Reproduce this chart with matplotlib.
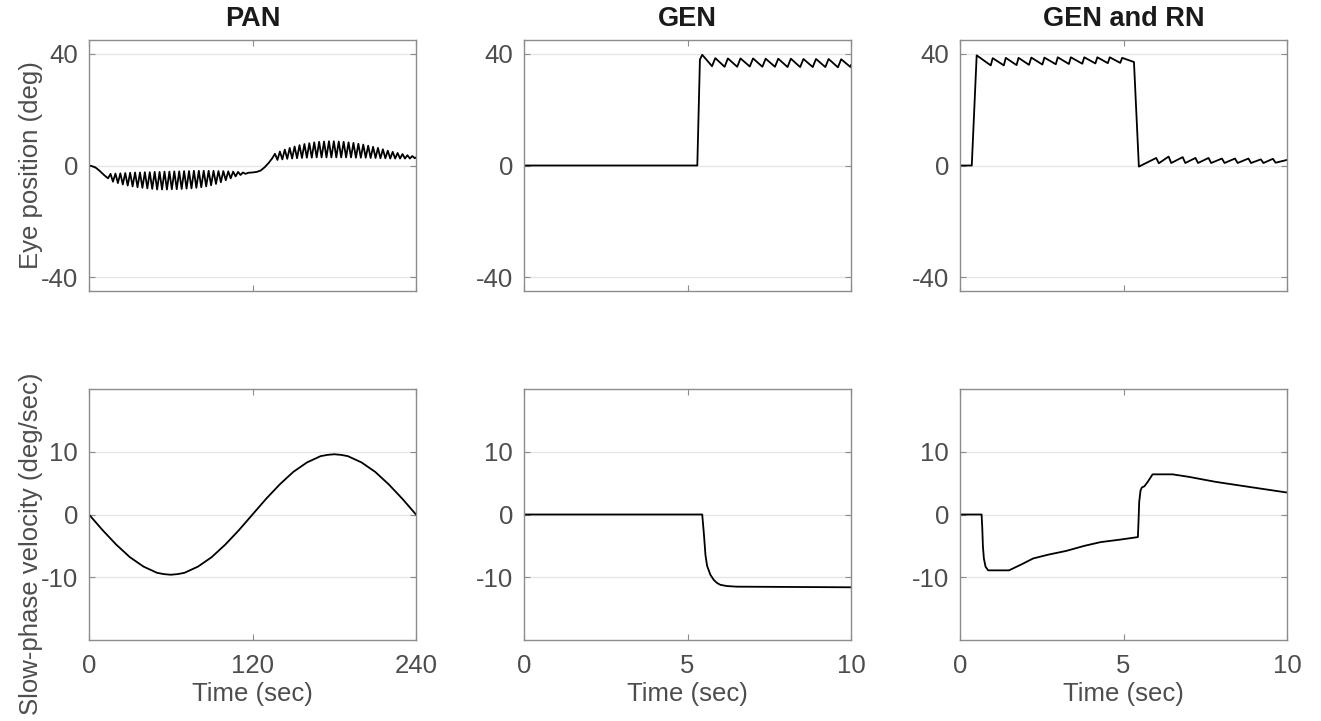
import matplotlib
matplotlib.use('Agg')
import matplotlib.pyplot as plt

plt.rcParams['font.family'] = ['Liberation Sans', 'DejaVu Sans']
plt.rcParams['axes.unicode_minus'] = False

# ---- PAN: eye position (vertices of the nystagmus trace)
pan_pos_t = [0, 2, 5, 8, 11, 14,
             15.8, 17.6, 19.4, 21.2, 23.0, 24.8, 26.6, 28.4, 30.2, 32.0,
             33.8, 35.6, 37.4, 39.2, 41.0, 42.8, 44.6, 46.4, 48.2, 50.0,
             51.8, 53.6, 55.4, 57.2, 59.0, 60.8, 62.6, 64.4, 66.2, 68.0,
             69.8, 71.6, 73.4, 75.2, 77.0, 78.8, 80.6, 82.4, 84.2, 86.0,
             87.8, 89.6, 91.4, 93.2, 95.0, 96.8, 98.6, 100.4, 102.2, 104.0,
             105.8, 107.6, 109.4, 111.2, 113.0, 114.8,
             117, 120, 123, 126, 129, 132, 134.5,
             136.5, 138.3, 140.1, 141.9, 143.7, 145.5, 147.3, 149.1, 150.9, 152.7,
             154.5, 156.3, 158.1, 159.9, 161.7, 163.5, 165.3, 167.1, 168.9, 170.7,
             172.5, 174.3, 176.1, 177.9, 179.7, 181.5, 183.3, 185.1, 186.9, 188.7,
             190.5, 192.3, 194.1, 195.9, 197.7, 199.5, 201.3, 203.1, 204.9, 206.7,
             208.5, 210.3, 212.1, 213.9, 215.7, 217.5, 219.3, 221.1, 222.9, 224.7,
             226.5, 228.3, 230.1, 231.9, 233.7, 235.5, 237.3, 239.1, 240]
pan_pos = [0, -0.2, -0.8, -2.0, -3.4, -4.6,
           -3.0, -5.8, -2.9, -6.3, -2.8, -6.8, -2.7, -7.2, -2.6, -7.5,
           -2.5, -7.8, -2.5, -8.0, -2.4, -8.2, -2.4, -8.4, -2.3, -8.6,
           -2.3, -8.6, -2.2, -8.6, -2.2, -8.5, -2.1, -8.5, -2.1, -8.4,
           -2.0, -8.3, -2.0, -8.2, -1.9, -8.0, -1.9, -7.8, -1.9, -7.5,
           -1.9, -7.1, -1.9, -6.6, -2.0, -6.0, -2.0, -5.3, -2.1, -4.6,
           -2.2, -3.9, -2.3, -3.4, -2.5, -3.0,
           -2.6, -2.5, -2.3, -1.8, -0.6, 1.0, 2.6,
           4.2, 2.0, 5.0, 2.2, 5.7, 2.4, 6.3, 2.5, 6.8, 2.6,
           7.3, 2.7, 7.7, 2.8, 8.0, 2.8, 8.3, 2.9, 8.5, 2.9,
           8.6, 2.9, 8.7, 2.9, 8.7, 2.9, 8.6, 2.9, 8.5, 2.9,
           8.3, 2.9, 8.1, 2.8, 7.8, 2.8, 7.5, 2.8, 7.1, 2.7,
           6.7, 2.7, 6.3, 2.6, 5.8, 2.6, 5.3, 2.5, 4.9, 2.5,
           4.5, 2.5, 4.1, 2.5, 3.7, 2.5, 3.4, 2.6, 2.9]

# ---- PAN: slow-phase velocity
pan_vel_t = [0, 10, 20, 30, 40, 50, 55, 60, 65, 70, 80, 90, 100, 110, 120,
             130, 140, 150, 160, 170, 175, 180, 185, 190, 200, 210, 220, 230, 240]
pan_vel = [0, -2.5, -4.8, -6.8, -8.3, -9.3, -9.5, -9.6, -9.5, -9.3, -8.3, -6.8, -4.8, -2.5, 0,
           2.5, 4.8, 6.8, 8.3, 9.3, 9.5, 9.6, 9.5, 9.3, 8.3, 6.8, 4.8, 2.5, 0]

# ---- GEN: eye position
gen_pos_t = [0, 5.3, 5.38, 5.45,
             5.75, 5.85, 6.135, 6.235, 6.52, 6.62, 6.905, 7.005, 7.29, 7.39,
             7.675, 7.775, 8.06, 8.16, 8.445, 8.545, 8.83, 8.93, 9.215, 9.315,
             9.6, 9.7, 9.985, 10.0]
gen_pos = [0, 0, 38.0, 39.7,
           35.6, 38.5, 35.4, 38.4, 35.4, 38.4, 35.5, 38.4, 35.4, 38.3,
           35.4, 38.3, 35.3, 38.3, 35.3, 38.2, 35.3, 38.2, 35.3, 38.2,
           35.2, 38.1, 35.3, 36.0]

# ---- GEN: slow-phase velocity
gen_vel_t = [0, 5.45, 5.5, 5.55, 5.6, 5.7, 5.8, 5.9, 6.0, 6.2, 6.5, 10]
gen_vel = [0, 0, -3.0, -6.5, -8.2, -9.6, -10.4, -10.9, -11.2, -11.4, -11.5, -11.6]

# ---- GEN and RN: eye position
rn_pos_t = [0, 0.36, 0.51,
            0.94, 1.0, 1.34, 1.40, 1.73, 1.79, 2.11, 2.18, 2.52, 2.58,
            2.93, 2.99, 3.33, 3.39, 3.74, 3.80, 4.14, 4.20, 4.52, 4.58,
            4.90, 4.96, 5.32, 5.47,
            6.0, 6.08, 6.38, 6.46, 6.81, 6.89, 7.2, 7.28, 7.6, 7.68,
            8.01, 8.09, 8.41, 8.49, 8.82, 8.9, 9.2, 9.28, 9.57, 9.65, 10.0]
rn_pos = [0, 0, 39.5,
          35.9, 38.5, 35.9, 38.6, 36.0, 38.6, 36.1, 38.7, 36.2, 38.7,
          36.3, 38.8, 36.4, 38.8, 36.5, 38.8, 36.6, 38.8, 36.7, 38.8,
          36.8, 38.6, 37.1, -0.4,
          2.7, 0.8, 3.2, 0.9, 3.0, 0.9, 2.7, 0.9, 2.7, 0.9,
          2.5, 0.9, 2.5, 0.9, 2.5, 0.9, 2.2, 0.9, 2.4, 1.0, 2.0]

# ---- GEN and RN: slow-phase velocity
rn_vel_t = [0, 0.66, 0.68, 0.70, 0.73, 0.78, 0.86, 1.5, 1.9, 2.24, 2.7, 3.25, 3.8, 4.3, 4.9, 5.44,
            5.46, 5.48, 5.52, 5.56, 5.64, 5.74, 5.89, 6.5, 7.0, 7.82, 8.84, 10.0]
rn_vel = [0, 0, -2.0, -5.0, -7.0, -8.3, -8.9, -8.9, -7.9, -7.0, -6.4, -5.8, -5.0, -4.4, -4.0, -3.6,
          -1.0, 2.0, 3.8, 4.3, 4.5, 5.2, 6.4, 6.4, 6.0, 5.2, 4.4, 3.5]

titles = ['PAN', 'GEN', 'GEN and RN']
pos_data = [(pan_pos_t, pan_pos), (gen_pos_t, gen_pos), (rn_pos_t, rn_pos)]
vel_data = [(pan_vel_t, pan_vel), (gen_vel_t, gen_vel), (rn_vel_t, rn_vel)]
xmax = [240, 10, 10]
xticks = [[0, 120, 240], [0, 5, 10], [0, 5, 10]]

W, H = 1321, 721
fig = plt.figure(figsize=(W / 100, H / 100), dpi=100)

lefts = [89, 524, 960]
aw, ah = 327, 251
frame_col = '#8c8c8c'
text_col = '#4d4d4d'
fs = 18.5


def style(ax):
    for s in ax.spines.values():
        s.set_color(frame_col)
        s.set_linewidth(1.0)
    ax.tick_params(direction='in', length=4, width=0.8, color=frame_col,
                   labelcolor=text_col, labelsize=fs, top=True, right=True, pad=8)
    ax.tick_params(axis='x', pad=10)
    ax.grid(axis='y', color='#e6e6e6', linewidth=1.0)
    ax.set_axisbelow(True)


for i in range(3):
    ax = fig.add_axes([lefts[i] / W, 1 - 291 / H, aw / W, ah / H])
    t, y = pos_data[i]
    ax.plot(t, y, color='black', linewidth=1.3)
    ax.set_xlim(0, xmax[i])
    ax.set_ylim(-45, 45)
    ax.set_xticks(xticks[i])
    ax.set_xticklabels([])
    ax.set_yticks([-40, 0, 40])
    style(ax)
    ax.set_title(titles[i], fontsize=19.5, fontweight='bold', color='#1a1a1a', pad=10)
    if i == 0:
        ax.set_ylabel('Eye position (deg)', fontsize=fs, color=text_col)
        ax.yaxis.set_label_coords(-0.14, 0.5)

    ax2 = fig.add_axes([lefts[i] / W, 1 - 640 / H, aw / W, ah / H])
    t, y = vel_data[i]
    ax2.plot(t, y, color='black', linewidth=1.3)
    ax2.set_xlim(0, xmax[i])
    ax2.set_ylim(-20, 20)
    ax2.set_xticks(xticks[i])
    ax2.set_yticks([-10, 0, 10])
    style(ax2)
    ax2.set_xlabel('Time (sec)', fontsize=fs, color=text_col, labelpad=3)
    if i == 0:
        ax2.set_ylabel('Slow-phase velocity (deg/sec)', fontsize=fs, color=text_col)
        ax2.yaxis.set_label_coords(-0.14, 0.385)

fig.savefig('out.png', dpi=100, facecolor='white')
